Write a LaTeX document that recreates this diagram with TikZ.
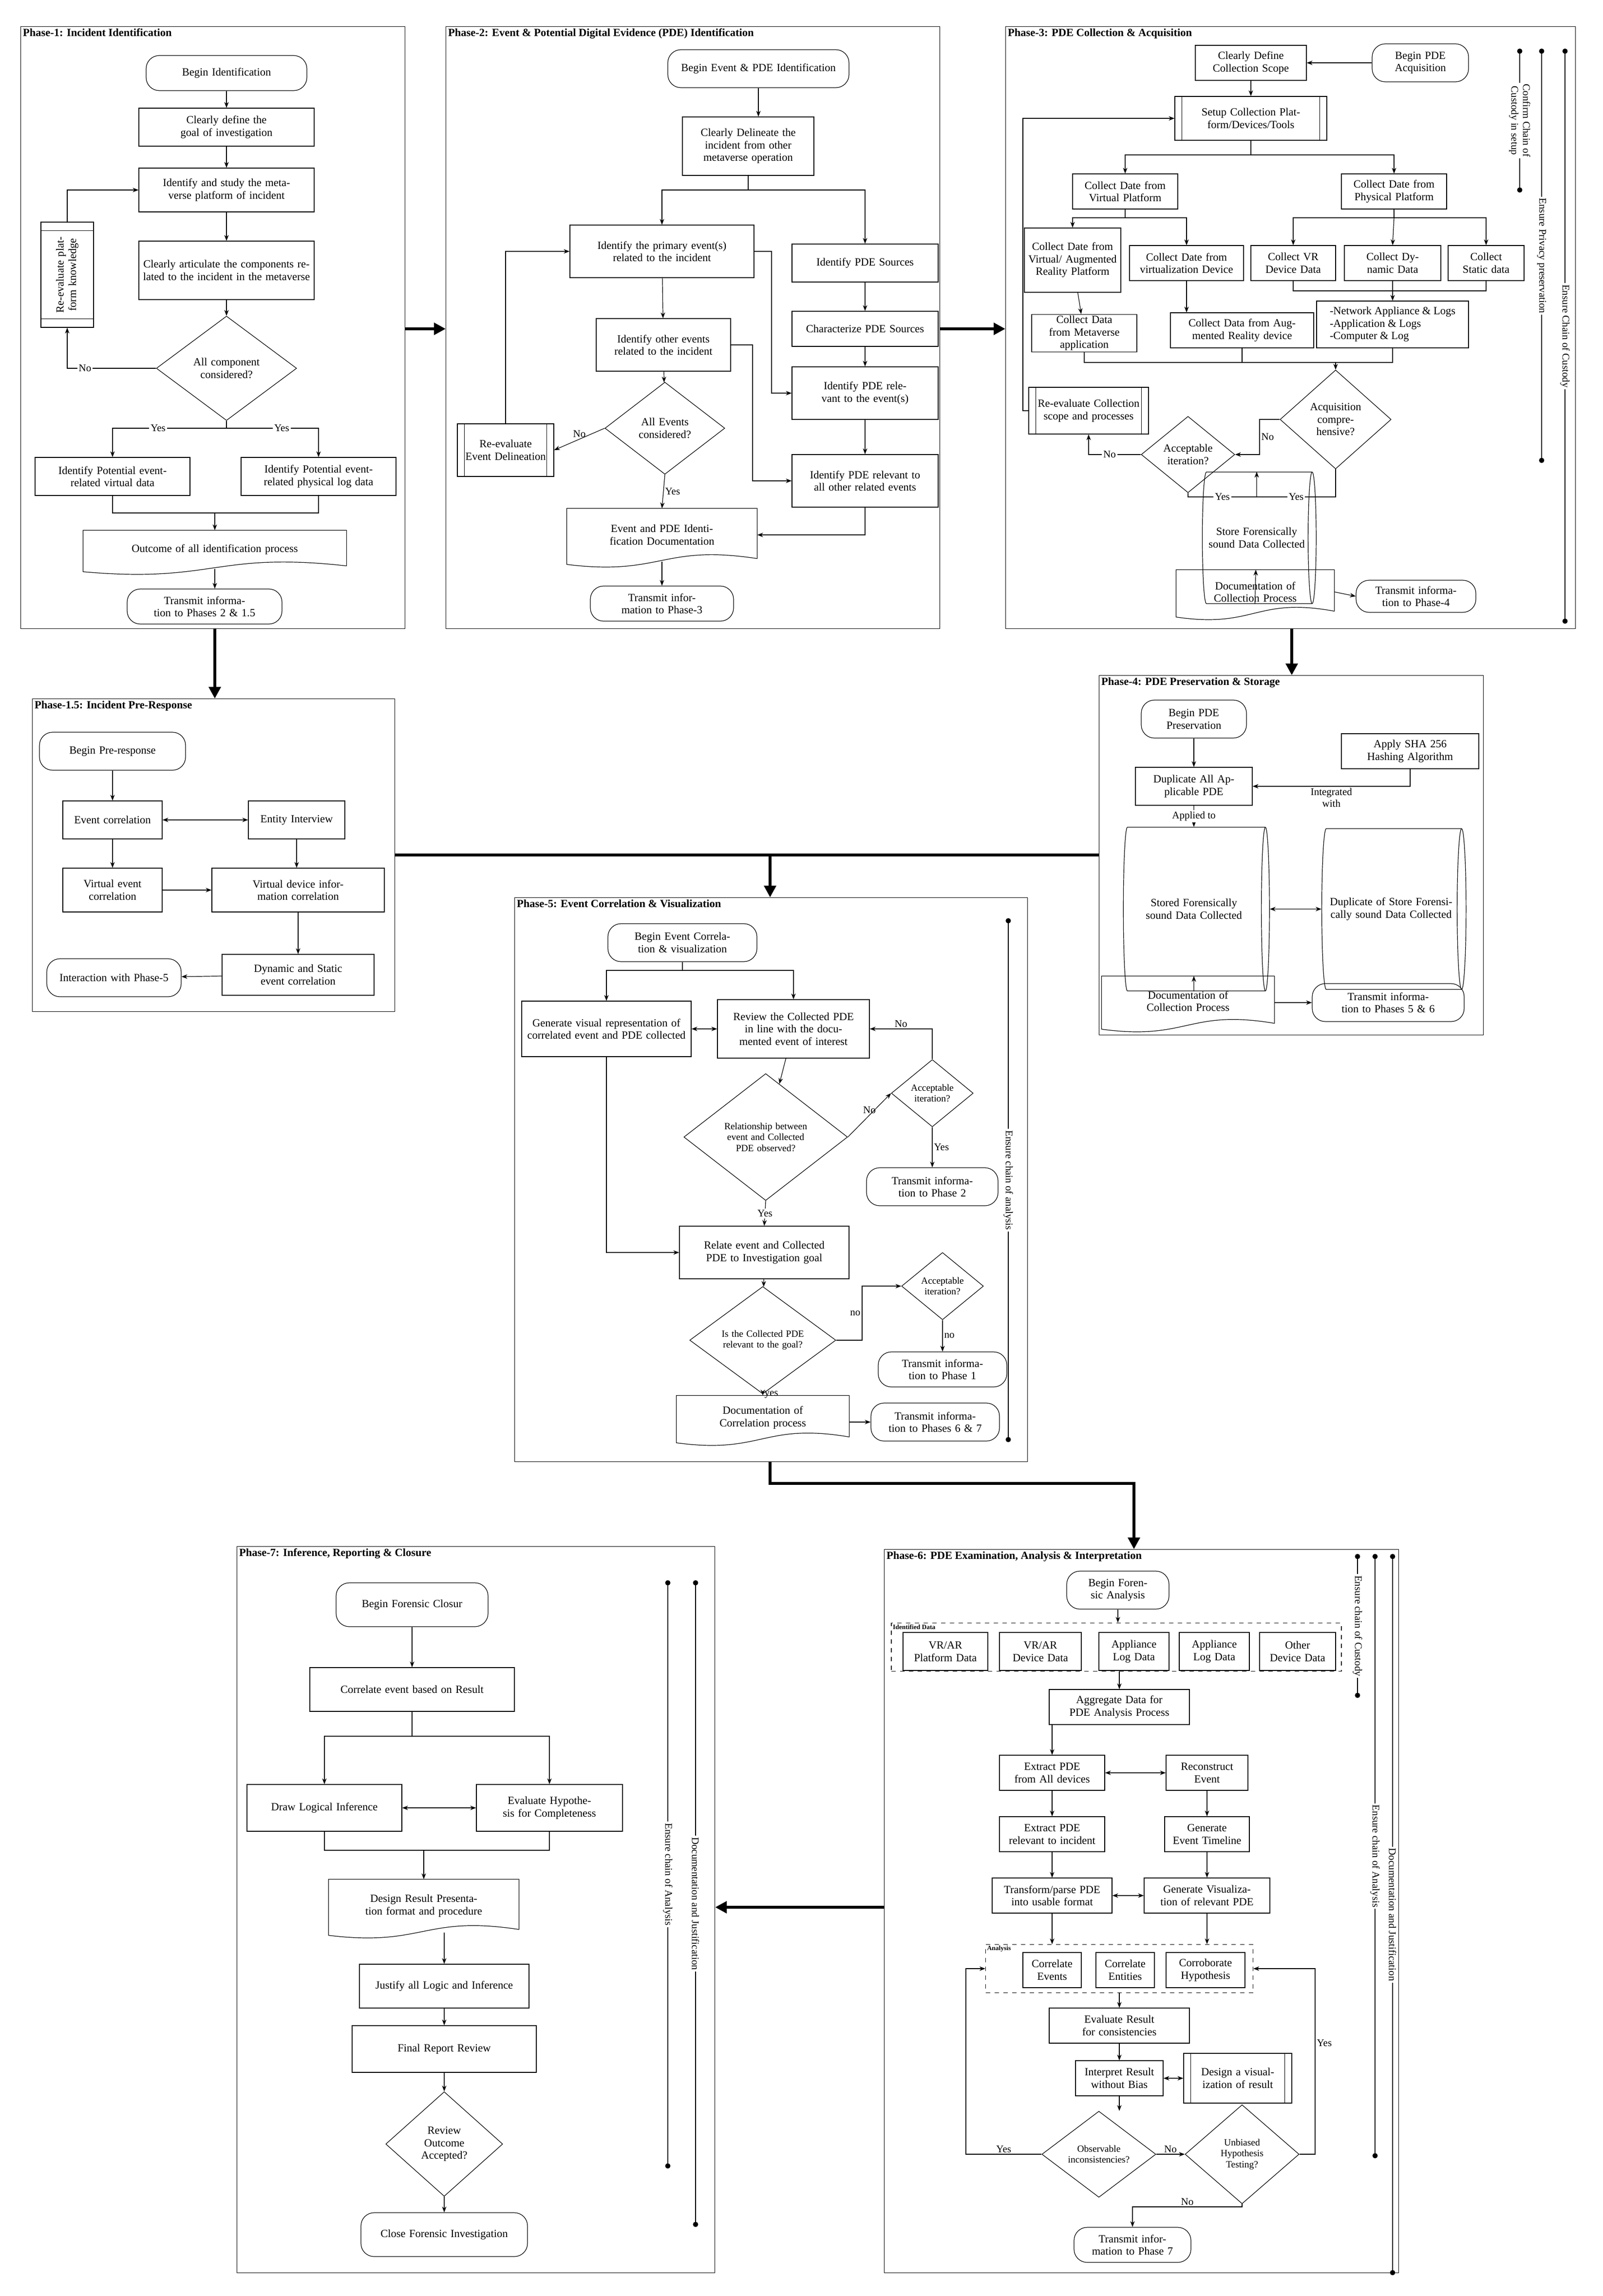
\documentclass[tikz,border=0pt]{standalone}
\usepackage{fontspec}
\setmainfont{Liberation Serif}
\usetikzlibrary{shapes.geometric,arrows.meta,calc}
\begin{document}
\begin{tikzpicture}[x=1pt,y=-1pt,
 every node/.style={font=\fontsize{7.5}{8.5}\selectfont},
 sz/.code 2 args={\pgfmathsetmacro\tw{#1-5}\edef\tmp{\noexpand\tikzset{minimum width=#1pt,minimum height=#2pt,text width=\tw pt}}\tmp},
 dsz/.code 2 args={\pgfmathsetmacro\tw{#1*0.6}\edef\tmp{\noexpand\tikzset{minimum width=#1pt,minimum height=#2pt,text width=\tw pt}}\tmp},
 csz/.code 2 args={\pgfmathsetmacro\tw{#1-22}\edef\tmp{\noexpand\tikzset{minimum width=#1pt,minimum height=#2pt,text width=\tw pt}}\tmp},
 box/.style={draw,rectangle,align=center,inner sep=1pt},
 term/.style={draw,rounded corners=9pt,align=center,inner sep=1pt},
 dec/.style={draw,diamond,align=center,inner sep=0pt},
 doc/.style={align=center,inner sep=1pt},
 cyl/.style={draw,cylinder,shape aspect=0.35,align=center,inner sep=1pt},
 grp/.style={draw,dashed,rectangle,inner sep=0pt},
 arr/.style={-{Stealth[length=4pt,width=3pt]}},
 darr/.style={{Stealth[length=4pt,width=3pt]}-{Stealth[length=4pt,width=3pt]}},
 big/.style={-{Triangle[length=8pt,width=8pt]},line width=2pt},
 frame/.style={draw,rectangle,inner sep=0pt,anchor=north west},
 ttl/.style={font=\bfseries\fontsize{7.5}{8.5}\selectfont,anchor=north west,inner sep=1.5pt},
 lab/.style={font=\fontsize{7}{8}\selectfont,inner sep=1pt},
 tiny/.style={font=\bfseries\fontsize{4.5}{5}\selectfont,anchor=north west,inner sep=1pt}]
\newcommand\docsh[1]{\draw (#1.north west) -- (#1.north east) -- ($(#1.south east)+(0,-2)$) .. controls ($(#1.south)+(0,-12)$) and ($(#1.south)+(0,10)$) .. ($(#1.south west)+(0,2)$) -- cycle;}
\newcommand\subr[1]{\draw ($(#1.north west)+(5,0)$) -- ($(#1.south west)+(5,0)$); \draw ($(#1.north east)+(-5,0)$) -- ($(#1.south east)+(-5,0)$);}
\newcommand\vl[4]{\draw (#1,#2)--(#1,#3) node[lab,midway,rotate=-90,fill=white,align=center]{#4}; \fill (#1,#2) circle (1.8); \fill (#1,#3) circle (1.8);}
\useasboundingbox (0,0) rectangle (1097,1571);
\fill[white] (0,0) rectangle (1097,1571);

% ---------------- Phase 1
\node[frame,minimum width=263pt,minimum height=412pt] (F1) at (14,18) {};
\node[ttl] (T1) at (14,18) {Phase-1: Incident Identification};
\node[term,sz={110}{24}] (p1a) at (155,50) {Begin Identification};
\node[box,sz={120}{26}] (p1b) at (155,87) {Clearly define the goal of investigation};
\node[box,sz={120}{30}] (p1c) at (155,130) {Identify and study the metaverse platform of incident};
\node[box,sz={120}{40}] (p1d) at (155,185) {Clearly articulate the components related to the incident in the metaverse};
\node[dec,dsz={96}{56}] (p1e) at (155,252) {All component considered?};
\node[box,minimum width=36pt,minimum height=72pt] (p1r) at (46,188) {};
\node[rotate=90,align=center,text width=58pt,inner sep=0pt] (p1rt) at (p1r) {Re-evaluate platform knowledge};
\draw ($(p1r.north west)+(0,6)$) -- ($(p1r.north east)+(0,6)$);
\draw ($(p1r.south west)+(0,-6)$) -- ($(p1r.south east)+(0,-6)$);
\node[box,sz={106}{26}] (p1f) at (77,326) {Identify Potential event-related virtual data};
\node[box,sz={106}{26}] (p1g) at (218,326) {Identify Potential event-related physical log data};
\node[doc,sz={180}{26}] (p1h) at (147,376) {Outcome of all identification process}; \docsh{p1h}
\node[term,sz={106}{24}] (p1i) at (140,415) {Transmit information to Phases 2 \& 1.5};
\draw[arr] (p1a)--(p1b); \draw[arr] (p1b)--(p1c); \draw[arr] (p1c)--(p1d); \draw[arr] (p1d)--(p1e);
\draw[arr] (p1e.west) -| node[lab,pos=0.4,fill=white]{No} (p1r.south);
\draw[arr] (p1r.north) |- (p1c.west);
\draw (p1e.south) -- (155,293) coordinate (p1s);
\draw[arr] (p1s) -| node[lab,pos=0.3,fill=white]{Yes} (p1f.north);
\draw[arr] (p1s) -| node[lab,pos=0.3,fill=white]{Yes} (p1g.north);
\coordinate (p1m) at (147,351);
\draw (p1f.south) |- (p1m) -| (p1g.south);
\draw[arr] (p1m) -- (p1h.north);
\draw[arr] (p1h.south) -- (p1h.south |- p1i.north);

% ---------------- Phase 2
\node[frame,minimum width=338pt,minimum height=412pt] (F2) at (305,18) {};
\node[ttl] (T2) at (305,18) {Phase-2: Event \& Potential Digital Evidence (PDE) Identification};
\node[term,sz={124}{26}] (p2a) at (519,47) {Begin Event \& PDE Identification};
\node[box,sz={90}{40}] (p2b) at (512,100) {Clearly Delineate the incident from other metaverse operation};
\node[box,sz={126}{36}] (p2c) at (453,172) {Identify the primary event(s) related to the incident};
\node[box,sz={100}{26}] (p2d) at (592,180) {Identify PDE Sources};
\node[box,sz={100}{24}] (p2e) at (592,225) {Characterize PDE Sources};
\node[box,sz={92}{36}] (p2f) at (454,236) {Identify other events related to the incident};
\node[box,sz={100}{36}] (p2g) at (592,269) {Identify PDE relevant to the event(s)};
\node[dec,dsz={82}{46}] (p2h) at (455,293) {All Events considered?};
\node[box,sz={66}{36}] (p2r) at (346,308) {Re-evaluate Event Delineation}; \subr{p2r}
\node[box,sz={100}{36}] (p2i) at (592,329) {Identify PDE relevant to all other related events};
\node[doc,sz={130}{36}] (p2j) at (453,366) {Event and PDE Identification Documentation}; \docsh{p2j}
\node[term,sz={98}{24}] (p2k) at (453,413) {Transmit information to Phase-3};
\draw[arr] (p2a.south) -- (p2a.south |- p2b.north);
\draw (p2b.south) -- (512,130) coordinate (p2s);
\draw[arr] (p2s) -| (p2c.north); \draw[arr] (p2s) -| (p2d.north);
\draw[arr] (p2c)--(p2f); \draw[arr] (p2f)--(p2h);
\draw[arr] (p2h.west) -- node[lab,above]{No} (p2r.east);
\draw[arr] (p2r.north) |- (p2c.west);
\draw[arr] (p2h.south) -- node[lab,right]{Yes} (p2j.north);
\draw[arr] (p2d)--(p2e); \draw[arr] (p2e)--(p2g); \draw[arr] (p2g)--(p2i);
\draw[arr] (p2c.east) -- (528,172) |- (p2g.west);
\draw[arr] (p2f.east) -- (515,236) |- (p2i.west);
\draw[arr] (p2i.south) |- (p2j.east);
\draw[arr] (p2j.south) -- (p2k.north);

% ---------------- Phase 3
\node[frame,minimum width=390pt,minimum height=412pt] (F3) at (688,18) {};
\node[ttl] (T3) at (688,18) {Phase-3: PDE Collection \& Acquisition};
\node[box,sz={76}{24}] (p3a) at (856,43) {Clearly Define Collection Scope};
\node[term,sz={66}{26}] (p3b) at (972,43) {Begin PDE Acquisition};
\node[box,sz={104}{30}] (p3c) at (856,81) {Setup Collection Platform/Devices/Tools}; \subr{p3c}
\node[box,sz={72}{24}] (p3d) at (770,131) {Collect Date from Virtual Platform};
\node[box,sz={72}{24}] (p3e) at (954,131) {Collect Date from Physical Platform};
\node[box,sz={66}{44}] (p3f) at (734,178) {Collect Date from Virtual/ Augmented Reality Platform};
\node[box,sz={78}{24}] (p3g) at (812,180) {Collect Date from virtualization Device};
\node[box,sz={58}{24}] (p3h) at (885,180) {Collect VR Device Data};
\node[box,sz={66}{24}] (p3i) at (953,180) {Collect Dynamic Data};
\node[box,sz={52}{24}] (p3j) at (1017,180) {Collect Static data};
\node[box,sz={72}{24}] (p3k) at (742,228) {Collect Data from Metaverse application};
\node[box,sz={98}{24}] (p3l) at (850,226) {Collect Data from Augmented Reality device};
\node[draw,align=left,inner sep=1.5pt,minimum width=104pt,minimum height=32pt] (p3m) at (953,222) {-Network Appliance \& Logs\\-Application \& Logs\\-Computer \& Log};
\node[dec,dsz={76}{50}] (p3n) at (914,287) {Acquisition comprehensive?};
\node[box,sz={82}{32}] (p3o) at (745,281) {Re-evaluate Collection scope and processes}; \subr{p3o}
\node[dec,dsz={64}{46}] (p3p) at (813,311) {Acceptable iteration?};
\node[cyl,csz={90}{32}] (p3q) at (860,368) {Store Forensically sound Data Collected};
\node[doc,sz={108}{30}] (p3r) at (859,405) {Documentation of Collection Process}; \docsh{p3r}
\node[term,sz={82}{22}] (p3s) at (969,408) {Transmit information to Phase-4};
\vl{1040}{35}{130}{Confirm Chain of\\Custody in setup}
\vl{1055}{35}{315}{Ensure Privacy preservation}
\vl{1071}{35}{425}{Ensure Chain of Custody}
\draw[arr] (p3b)--(p3a); \draw[arr] (p3a)--(p3c);
\draw (p3c.south) -- (856,106) coordinate (p3s1);
\draw[arr] (p3s1) -| (p3d.north); \draw[arr] (p3s1) -| (p3e.north);
\draw (p3d.south) -- (770,149) coordinate (p3s2);
\draw[arr] (p3s2) -| (p3f.north); \draw[arr] (p3s2) -| (p3g.north);
\draw (p3e.south) -- (954,149) coordinate (p3s3);
\draw[arr] (p3s3) -| (p3h.north); \draw[arr] (p3s3) -- (p3i.north); \draw[arr] (p3s3) -| (p3j.north);
\draw[arr] (p3f)--(p3k);
\draw[arr] (p3g.south) -- (p3g.south |- p3l.north);
\coordinate (p3mt) at (953,199);
\draw (p3h.south) |- (p3mt) -| (p3j.south);
\draw[arr] (p3i.south) -- (p3m.north);
\coordinate (p3mg) at (914,248);
\draw (p3k.south) |- (p3mg); \draw (p3l.south) |- (p3mg); \draw (p3m.south) |- (p3mg);
\draw[arr] (p3mg) -- (p3n.north);
\draw[arr] (p3n.west) -- (862,287) |- node[lab,pos=0.25,right]{No} (p3p.east);
\draw[arr] (p3p.west) -| node[lab,pos=0.3,fill=white]{No} (p3o.south);
\draw[arr] (p3o.west) -- (700,281) |- (p3c.west);
\coordinate (p3y) at (860,340);
\draw (p3p.south) |- node[lab,pos=0.75,fill=white]{Yes} (p3y);
\draw (p3n.south) |- node[lab,pos=0.75,fill=white]{Yes} (p3y);
\draw[arr] (p3y) -- (p3q.north);
\draw[arr] (p3q)--(p3r); \draw[arr] (p3r.east) -- (p3s.west);

% ---------------- Phase 1.5
\node[frame,minimum width=248pt,minimum height=214pt] (F15) at (22,478) {};
\node[ttl] (T15) at (22,478) {Phase-1.5: Incident Pre-Response};
\node[term,sz={100}{26}] (q1) at (77,514) {Begin Pre-response};
\node[box,sz={68}{26}] (q2) at (77,561) {Event correlation};
\node[box,sz={66}{26}] (q3) at (203,561) {Entity Interview};
\node[box,sz={68}{30}] (q4) at (77,609) {Virtual event correlation};
\node[box,sz={118}{30}] (q5) at (204,609) {Virtual device information correlation};
\node[box,sz={104}{28}] (q6) at (204,667) {Dynamic and Static event correlation};
\node[term,sz={92}{26}] (q7) at (78,669) {Interaction with Phase-5};
\draw[arr] (q1)--(q2); \draw[darr] (q2)--(q3); \draw[arr] (q2)--(q4);
\draw[arr] (q4)--(q5); \draw[arr] (q3.south)--(q3.south |- q5.north); \draw[arr] (q5)--(q6); \draw[arr] (q6)--(q7);

% ---------------- Phase 4
\node[frame,minimum width=263pt,minimum height=246pt] (F4) at (752,462) {};
\node[ttl] (T4) at (752,462) {Phase-4: PDE Preservation \& Storage};
\node[term,sz={72}{26}] (r1) at (817,492) {Begin PDE Preservation};
\node[box,sz={80}{26}] (r2) at (817,538) {Duplicate All Applicable PDE};
\node[box,sz={94}{24}] (r3) at (965,514) {Apply SHA 256 Hashing Algorithm};
\node[cyl,csz={112}{40}] (r4) at (817,622) {Stored Forensically sound Data Collected};
\node[cyl,csz={110}{50}] (r5) at (952,622) {Duplicate of Store Forensically sound Data Collected};
\node[doc,sz={118}{34}] (r6) at (813,685) {Documentation of Collection Process}; \docsh{r6}
\node[term,sz={104}{26}] (r7) at (950,686) {Transmit information to Phases 5 \& 6};
\draw[arr] (r1)--(r2);
\draw[arr] (r3.south) |- node[lab,pos=0.75,below,align=center]{Integrated\\with} (r2.east);
\draw[arr] (r2)-- node[lab,fill=white]{Applied to} (r4);
\draw[darr] (r4)--(r5); \draw[arr] (r4)--(r4.south |- r6.north); \draw[arr] (r6.east |- r7.west)--(r7.west);

% ---------------- Phase 5
\node[frame,minimum width=351pt,minimum height=386pt] (F5) at (352,614) {};
\node[ttl] (T5) at (352,614) {Phase-5: Event Correlation \& Visualization};
\node[term,sz={102}{26}] (s1) at (467,645) {Begin Event Correlation \& visualization};
\node[box,sz={116}{38}] (s2) at (415,704) {Generate visual representation of correlated event and PDE collected};
\node[box,sz={104}{40}] (s3) at (543,704) {Review the Collected PDE in line with the documented event of interest};
\node[dec,dsz={112}{72},font=\fontsize{6.5}{7.5}\selectfont] (s4) at (524,778) {Relationship between event and Collected PDE observed?};
\node[dec,dsz={56}{46},font=\fontsize{6.5}{7.5}\selectfont] (s5) at (638,748) {Acceptable iteration?};
\node[term,sz={90}{26}] (s6) at (638,812) {Transmit information to Phase 2};
\node[box,sz={116}{36}] (s7) at (523,857) {Relate event and Collected PDE to Investigation goal};
\node[dec,dsz={100}{48},font=\fontsize{6.5}{7.5}\selectfont] (s8) at (522,917) {Is the Collected PDE relevant to the goal?};
\node[dec,dsz={56}{46},font=\fontsize{6.5}{7.5}\selectfont] (s9) at (645,880) {Acceptable iteration?};
\node[term,sz={88}{24}] (s10) at (645,937) {Transmit information to Phase 1};
\node[doc,sz={118}{30}] (s11) at (522,970) {Documentation of Correlation process}; \docsh{s11}
\node[term,sz={88}{26}] (s12) at (640,973) {Transmit information to Phases 6 \& 7};
\vl{690}{630}{985}{Ensure chain of analysis}
\draw (s1.south) -- (467,664) coordinate (s5s);
\draw[arr] (s5s) -| (s2.north); \draw[arr] (s5s) -| (s3.north);
\draw[darr] (s2)--(s3); \draw[arr] (s3)--(s4);
\draw[arr] (s4.east) -- node[lab,above]{No} (s5.west);
\draw[arr] (s5.north) |- node[lab,pos=0.75,above]{No} (s3.east);
\draw[arr] (s5.south) -- node[lab,right]{Yes} (s6.north);
\draw[arr] (s4.south) -- node[lab,fill=white]{Yes} (s7.north);
\draw[arr] (s2.south) |- (s7.west);
\draw[arr] (s7)--(s8);
\draw[arr] (s8.east) -- (590,917) |- node[lab,pos=0.25,left]{no} (s9.west);
\draw[arr] (s9.south) -- node[lab,right]{no} (s10.north);
\draw[arr] (s8.south) -- node[lab,right]{yes} (s11.north);
\draw[arr] (s11.east |- s12.west) -- (s12.west);

% ---------------- Phase 6
\node[frame,minimum width=352pt,minimum height=495pt] (F6) at (605,1060) {};
\node[ttl] (T6) at (605,1060) {Phase-6: PDE Examination, Analysis \& Interpretation};
\node[term,sz={70}{26}] (t1) at (765,1088) {Begin Forensic Analysis};
\node[grp,minimum width=308pt,minimum height=33pt] (G1) at (764,1127) {};
\node[tiny] (G1l) at (G1.north west) {Identified Data};
\node[box,sz={58}{26}] (t2a) at (647,1130) {VR/AR Platform Data};
\node[box,sz={56}{26}] (t2b) at (712,1130) {VR/AR Device Data};
\node[box,sz={48}{26}] (t2c) at (776,1130) {Appliance Log Data};
\node[box,sz={48}{26}] (t2d) at (831,1130) {Appliance Log Data};
\node[box,sz={52}{26}] (t2e) at (888,1130) {Other Device Data};
\node[box,sz={96}{24}] (t3) at (766,1168) {Aggregate Data for PDE Analysis Process};
\node[box,sz={72}{24}] (t4) at (720,1213) {Extract PDE from All devices};
\node[box,sz={56}{24}] (t5) at (826,1213) {Reconstruct Event};
\node[box,sz={72}{24}] (t6) at (720,1255) {Extract PDE relevant to incident};
\node[box,sz={58}{24}] (t7) at (826,1255) {Generate Event Timeline};
\node[box,sz={82}{24}] (t8) at (720,1297) {Transform/parse PDE into usable format};
\node[box,sz={86}{24}] (t9) at (826,1297) {Generate Visualization of relevant PDE};
\node[grp,minimum width=183pt,minimum height=33pt] (G2) at (766,1347) {};
\node[tiny] (G2l) at (G2.north west) {Analysis};
\node[box,sz={40}{24}] (t10a) at (720,1348) {Correlate Events};
\node[box,sz={40}{24}] (t10b) at (770,1348) {Correlate Entities};
\node[box,sz={54}{24}] (t10c) at (825,1348) {Corroborate Hypothesis};
\node[box,sz={96}{24}] (t11) at (766,1386) {Evaluate Result for consistencies};
\node[box,sz={60}{24}] (t12) at (766,1422) {Interpret Result without Bias};
\node[box,sz={74}{34}] (t13) at (847,1422) {Design a visualization of result}; \subr{t13}
\node[dec,dsz={78}{44},font=\fontsize{6.5}{7.5}\selectfont] (t14) at (752,1474) {Observable inconsistencies?};
\node[dec,dsz={78}{50},font=\fontsize{6.5}{7.5}\selectfont] (t15) at (850,1474) {Unbiased Hypothesis Testing?};
\node[term,sz={80}{24}] (t16) at (775,1536) {Transmit information to Phase 7};
\vl{929}{1065}{1160}{Ensure chain of Custody}
\vl{941}{1065}{1475}{Ensure chain of Analysis}
\vl{953}{1065}{1555}{Documentation and Justification}
\draw[arr] (t1.south) -- (t1.south |- G1.north);
\draw[arr] (G1.south -| t3.north) -- (t3.north);
\draw[arr] (t4.north |- t3.south) -- (t4.north);
\draw[darr] (t4)--(t5); \draw[arr] (t4)--(t6); \draw[arr] (t5)--(t7); \draw[arr] (t6)--(t8); \draw[arr] (t7)--(t9);
\draw[darr] (t8)--(t9);
\draw[arr] (t8.south) -- (t8.south |- G2.north); \draw[arr] (t9.south) -- (t9.south |- G2.north);
\draw[arr] (G2.south -| t11.north) -- (t11.north);
\draw[arr] (t11)--(t12); \draw[darr] (t12)--(t13);
\draw[arr] (t12.south) -- (t12.south |- t14.north);
\draw[arr] (t14.west) -- node[lab,above]{Yes} (661,1474) |- (G2.west);
\draw[arr] (t14.east) -- node[lab,above]{No} (t15.west);
\draw[arr] (t15.east) -- (900,1474) |- node[lab,pos=0.3,right]{Yes} (G2.east);
\draw[arr] (t15.south) |- node[lab,pos=0.75,above]{No} (775,1510) -- (t16.north);

% ---------------- Phase 7
\node[frame,minimum width=327pt,minimum height=497pt] (F7) at (162,1058) {};
\node[ttl] (T7) at (162,1058) {Phase-7: Inference, Reporting \& Closure};
\node[term,sz={104}{30}] (u1) at (282,1098) {Begin Forensic Closur};
\node[box,sz={140}{30}] (u2) at (282,1156) {Correlate event based on Result};
\node[box,sz={106}{32}] (u3) at (222,1237) {Draw Logical Inference};
\node[box,sz={100}{32}] (u4) at (376,1237) {Evaluate Hypothesis for Completeness};
\node[doc,sz={130}{36}] (u5) at (290,1304) {Design Result Presentation format and procedure}; \docsh{u5}
\node[box,sz={116}{30}] (u6) at (304,1359) {Justify all Logic and Inference};
\node[box,sz={126}{32}] (u7) at (304,1402) {Final Report Review};
\node[dec,dsz={80}{56}] (u8) at (304,1467) {Review Outcome Accepted?};
\node[term,sz={114}{30}] (u9) at (304,1529) {Close Forensic Investigation};
\vl{457}{1083}{1482}{Ensure chain of Analysis}
\vl{476}{1083}{1522}{Documentation and Justification}
\draw[arr] (u1)--(u2);
\draw (u2.south) -- (282,1188) coordinate (u2s);
\draw[arr] (u2s) -| (u3.north); \draw[arr] (u2s) -| (u4.north);
\draw[darr] (u3)--(u4);
\coordinate (u34) at (290,1266);
\draw (u3.south) |- (u34) -| (u4.south);
\draw[arr] (u34) -- (u5.north);
\draw[arr] (u5.south -| u6.north) -- (u6.north);
\draw[arr] (u6)--(u7); \draw[arr] (u7)--(u8); \draw[arr] (u8)--(u9);

% ---------------- inter-phase arrows
\draw[big] (F1.east |- 0,225) -- (F2.west |- 0,225);
\draw[big] (F2.east |- 0,225) -- (F3.west |- 0,225);
\draw[big] (F1.south -| 147,0) -- (F15.north -| 147,0);
\draw[big] (F3.south -| 884,0) -- (F4.north -| 884,0);
\draw[line width=2pt] (F15.east |- 0,585) -- (F4.west |- 0,585);
\draw[big] (527,585) -- (F5.north -| 527,0);
\draw[big] (F5.south -| 527,0) |- (776,1015) -- (F6.north -| 776,0);
\draw[big] (F6.west |- 0,1305) -- (F7.east |- 0,1305);
\end{tikzpicture}
\end{document}
